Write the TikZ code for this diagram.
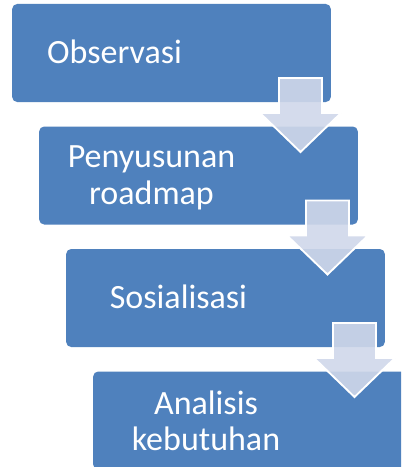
\documentclass[tikz,border=0pt]{standalone}
\usepackage{fontspec}
\setmainfont{Carlito}
\usepackage{xcolor}
\usepackage{tikz}

\definecolor{stepblue}{HTML}{4F81BD}
\definecolor{arrowblue}{HTML}{D0D8EA}

\tikzset{
  stepbox/.style={fill=stepblue, rounded corners=3.75pt, inner sep=0pt,
    minimum width=239pt, minimum height=73.5pt},
  steptext/.style={text=white, inner sep=0pt, align=center,
    font=\fontsize{25.5pt}{27.4pt}\selectfont},
  flowarrow/.style={fill=arrowblue, fill opacity=0.9, draw=white, line width=1.4pt,
    line join=miter}
}

\begin{document}
\begin{tikzpicture}[x=0.75pt, y=-0.75pt]

    % Page frame
    \clip (0,0) rectangle (401,467);
    \fill[white] (0,0) rectangle (401,467);

    % Steps, each shifted by 27 right and 122.5 down
    \node[stepbox] (obs) at (171.5,53)    {};
    \node[stepbox] (road) at (198.5,175.5) {};
    \node[stepbox] (sos) at (225.5,298)   {};
    \node[stepbox] (ana) at (252.5,420.5) {};

    % Block arrows between the steps
    \foreach \k in {0,1,2}
        \draw[flowarrow, shift={(\k*27,\k*122.5)}]
            (279,78) -- (322,78) -- (322,113) -- (341,113) -- (300.5,152)
            -- (260,113) -- (279,113) -- cycle;

    % Labels
    \node[steptext] (obslabel) at (114.5,52)  {Observasi};
    \node[steptext] (roadlabel) at (151.5,178) {Penyusunan\\roadmap};
    \node[steptext] (soslabel) at (178.5,296.5) {Sosialisasi};
    \node[steptext] (analabel) at (206,421)   {Analisis\\kebutuhan};

\end{tikzpicture}
\end{document}
